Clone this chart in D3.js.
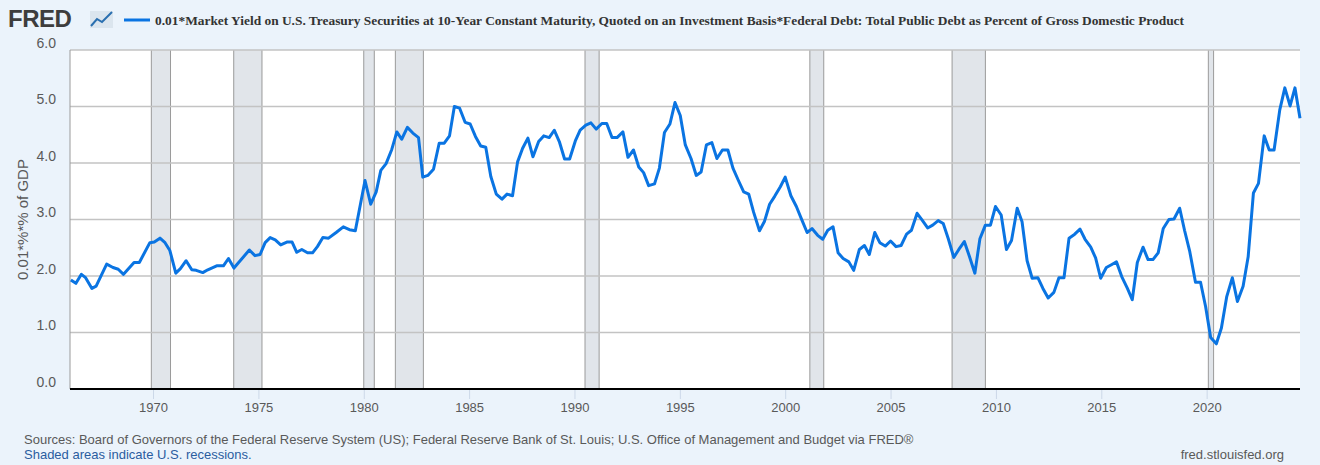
<!DOCTYPE html>
<html><head><meta charset="utf-8">
<script src="https://cdn.jsdelivr.net/npm/d3@7"></script>
<style>
body{margin:0;background:#ebf3fb;font-family:"Liberation Sans",Arial,sans-serif;}
</style></head><body>
<svg id="chart" width="1320" height="465"></svg>
<script>
// vertices: decimal year, value
var years = [1966.1,1966.34,1966.6,1966.8,1967.1,1967.3,1967.8,1968.1,1968.35,1968.6,1969.1,1969.35,1969.85,1970.06,1970.33,1970.57,1970.8,1971.08,1971.3,1971.57,1971.84,1972.05,1972.36,1972.6,1973.02,1973.34,1973.58,1973.84,1974.57,1974.84,1975.08,1975.32,1975.56,1975.8,1976.06,1976.35,1976.6,1976.82,1977.06,1977.33,1977.57,1977.8,1978.06,1978.33,1978.69,1979.03,1979.32,1979.6,1980.06,1980.33,1980.59,1980.81,1981.06,1981.33,1981.57,1981.8,1982.07,1982.33,1982.6,1982.8,1983.04,1983.31,1983.58,1983.82,1984.07,1984.3,1984.55,1984.81,1985.05,1985.3,1985.55,1985.79,1986.03,1986.29,1986.56,1986.8,1987.06,1987.3,1987.54,1987.79,1988.03,1988.3,1988.54,1988.8,1989.04,1989.28,1989.53,1989.77,1990.04,1990.27,1990.54,1990.78,1991.03,1991.3,1991.53,1991.78,1992.02,1992.3,1992.54,1992.8,1993.05,1993.28,1993.52,1993.8,1994.03,1994.27,1994.53,1994.77,1995.02,1995.26,1995.53,1995.78,1996.01,1996.26,1996.52,1996.76,1997.02,1997.28,1997.52,1997.78,1998.03,1998.27,1998.5,1998.78,1999.02,1999.26,1999.5,1999.77,2000.0,2000.27,2000.53,2000.77,2001.04,2001.27,2001.54,2001.78,2002.02,2002.27,2002.51,2002.75,2003.02,2003.25,2003.52,2003.76,2003.99,2004.25,2004.49,2004.75,2005.0,2005.26,2005.5,2005.76,2005.99,2006.26,2006.5,2006.76,2007.0,2007.26,2007.5,2007.74,2008.0,2008.24,2008.5,2008.74,2009.0,2009.24,2009.5,2009.74,2009.98,2010.25,2010.5,2010.74,2011.01,2011.24,2011.48,2011.72,2011.99,2012.23,2012.48,2012.75,2012.99,2013.23,2013.47,2013.74,2013.99,2014.23,2014.5,2014.73,2014.97,2015.24,2015.48,2015.72,2015.97,2016.24,2016.47,2016.71,2016.98,2017.22,2017.45,2017.7,2017.94,2018.21,2018.45,2018.72,2018.95,2019.2,2019.47,2019.71,2019.95,2020.19,2020.46,2020.7,2020.95,2021.22,2021.46,2021.73,2021.97,2022.22,2022.46,2022.73,2022.97,2023.2,2023.47,2023.71,2023.96,2024.19,2024.43];
var values = [1.93,1.87,2.03,1.97,1.78,1.82,2.21,2.15,2.12,2.03,2.24,2.24,2.59,2.6,2.67,2.59,2.45,2.05,2.13,2.27,2.11,2.1,2.06,2.11,2.18,2.18,2.31,2.14,2.46,2.36,2.38,2.59,2.68,2.64,2.55,2.6,2.6,2.42,2.47,2.41,2.41,2.52,2.68,2.67,2.77,2.87,2.82,2.8,3.69,3.27,3.49,3.87,3.99,4.24,4.55,4.42,4.63,4.53,4.45,3.75,3.78,3.89,4.35,4.35,4.48,5.0,4.97,4.72,4.69,4.47,4.3,4.28,3.76,3.45,3.36,3.45,3.42,4.02,4.26,4.44,4.11,4.38,4.48,4.45,4.58,4.38,4.07,4.07,4.39,4.58,4.67,4.71,4.6,4.7,4.7,4.45,4.45,4.55,4.1,4.23,3.93,3.83,3.6,3.63,3.91,4.54,4.69,5.07,4.84,4.32,4.08,3.78,3.84,4.32,4.36,4.08,4.23,4.23,3.91,3.69,3.49,3.45,3.13,2.8,2.97,3.27,3.41,3.58,3.75,3.42,3.23,3.01,2.77,2.84,2.72,2.65,2.81,2.87,2.41,2.31,2.25,2.1,2.47,2.54,2.38,2.77,2.59,2.53,2.62,2.52,2.54,2.74,2.81,3.11,2.99,2.85,2.9,2.98,2.93,2.66,2.33,2.47,2.61,2.35,2.05,2.66,2.9,2.9,3.23,3.08,2.47,2.63,3.2,2.96,2.27,1.96,1.97,1.78,1.61,1.71,1.97,1.97,2.67,2.74,2.83,2.65,2.51,2.32,1.96,2.15,2.2,2.25,1.99,1.78,1.58,2.24,2.51,2.29,2.29,2.41,2.84,3.0,3.01,3.2,2.81,2.43,1.89,1.89,1.46,0.91,0.8,1.08,1.63,1.97,1.55,1.82,2.34,3.47,3.64,4.48,4.23,4.23,4.94,5.33,5.01,5.33,4.79];
var recStart = [1969.92,1973.83,1980.0,1981.5,1990.5,2001.17,2007.92,2020.08];
var recEnd   = [1970.83,1975.17,1980.5,1982.83,1991.17,2001.83,2009.5,2020.33];
var yTicks = [0,1,2,3,4,5,6];
var xTicks = [1970,1975,1980,1985,1990,1995,2000,2005,2010,2015,2020];

var svg = d3.select('#chart');
var L = 70, R = 1300, T = 50, B = 389;
var x = d3.scaleLinear().domain([1966.06, 2024.43]).range([L, R]);
var y = d3.scaleLinear().domain([0, 6]).range([B, T]);

svg.append('rect').attr('x', L).attr('y', T).attr('width', R - L).attr('height', B - T).attr('fill', '#fff');

// recessions
recStart.forEach(function (s, i) {
  var x0 = x(s), x1 = x(recEnd[i]);
  svg.append('rect').attr('x', x0).attr('y', T).attr('width', x1 - x0).attr('height', B - T).attr('fill', '#e1e5ea');
  [x0, x1].forEach(function (xx) {
    svg.append('line').attr('x1', xx).attr('x2', xx).attr('y1', T).attr('y2', B).attr('stroke', '#9a9a9a').attr('stroke-width', 1);
  });
});

// horizontal grid
svg.append('g').selectAll('line').data(yTicks).join('line')
  .attr('x1', L).attr('x2', R).attr('y1', d => y(d)).attr('y2', d => y(d))
  .attr('stroke', '#c3c3c3').attr('stroke-width', 1.3);
svg.append('line').attr('x1', L).attr('x2', L).attr('y1', T).attr('y2', B).attr('stroke', '#9a9a9a');

// axes
var yAxis = svg.append('g').attr('transform', 'translate(' + L + ',0)')
  .call(d3.axisLeft(y).tickValues(yTicks).tickSize(0).tickPadding(14));
yAxis.select('.domain').remove();
yAxis.selectAll('text').attr('font-size', 14).attr('fill', '#595959').attr('font-family', '"Liberation Sans",Arial,sans-serif').attr('dy', '-0.2em');

var xAxis = svg.append('g').attr('transform', 'translate(0,' + B + ')')
  .call(d3.axisBottom(x).tickValues(xTicks).tickFormat(d3.format('d')).tickSize(10).tickPadding(4));
xAxis.select('.domain').remove();
xAxis.selectAll('line').attr('stroke', '#ccd8e8');
xAxis.selectAll('text').attr('font-size', 13).attr('fill', '#595959').attr('font-family', '"Liberation Sans",Arial,sans-serif');
svg.append('line').attr('x1', L).attr('x2', R).attr('y1', B).attr('y2', B).attr('stroke', '#000').attr('stroke-width', 2);

// series
svg.append('path').datum(years.map((d, i) => [d, values[i]]))
  .attr('fill', 'none').attr('stroke', '#0a74e2').attr('stroke-width', 3).attr('stroke-linejoin', 'round')
  .attr('d', d3.line().x(d => x(d[0])).y(d => y(d[1])));

// y label
svg.append('text').attr('transform', 'translate(28,' + ((T + B) / 2) + ') rotate(-90)')
  .attr('text-anchor', 'middle').attr('font-size', 15).attr('fill', '#595959').text('0.01*%*% of GDP');

// header
var logo = svg.append('g');
logo.append('text').attr('x', 8).attr('y', 27).attr('font-size', 24).attr('font-weight', 'bold').attr('fill', '#3d3d3d')
  .attr('font-family', '"Liberation Sans",Arial,sans-serif').attr('letter-spacing', -0.5).text('FRED');
logo.append('rect').attr('x', 90).attr('y', 11).attr('width', 23).attr('height', 17).attr('fill', '#dbe5ee');
logo.append('polyline').attr('points', '91,26 97,19 102,22 112,12').attr('fill', 'none').attr('stroke', '#2a6fb0').attr('stroke-width', 2);
svg.append('line').attr('x1', 124).attr('x2', 150).attr('y1', 20).attr('y2', 20).attr('stroke', '#0a74e2').attr('stroke-width', 3);
svg.append('text').attr('x', 155).attr('y', 25).attr('font-size', 13.4).attr('font-weight', 'bold').attr('fill', '#333')
  .attr('font-family', '"Liberation Serif","Times New Roman",serif')
  .text('0.01*Market Yield on U.S. Treasury Securities at 10-Year Constant Maturity, Quoted on an Investment Basis*Federal Debt: Total Public Debt as Percent of Gross Domestic Product');

// footer
svg.append('text').attr('x', 24).attr('y', 444).attr('font-size', 13).attr('fill', '#595959')
  .text('Sources: Board of Governors of the Federal Reserve System (US); Federal Reserve Bank of St. Louis; U.S. Office of Management and Budget via FRED®');
svg.append('text').attr('x', 24).attr('y', 459).attr('font-size', 13).attr('fill', '#2a5d9f').text('Shaded areas indicate U.S. recessions.');
svg.append('text').attr('x', 1284).attr('y', 459).attr('text-anchor', 'end').attr('font-size', 13).attr('fill', '#595959').text('fred.stlouisfed.org');
</script>
</body></html>
